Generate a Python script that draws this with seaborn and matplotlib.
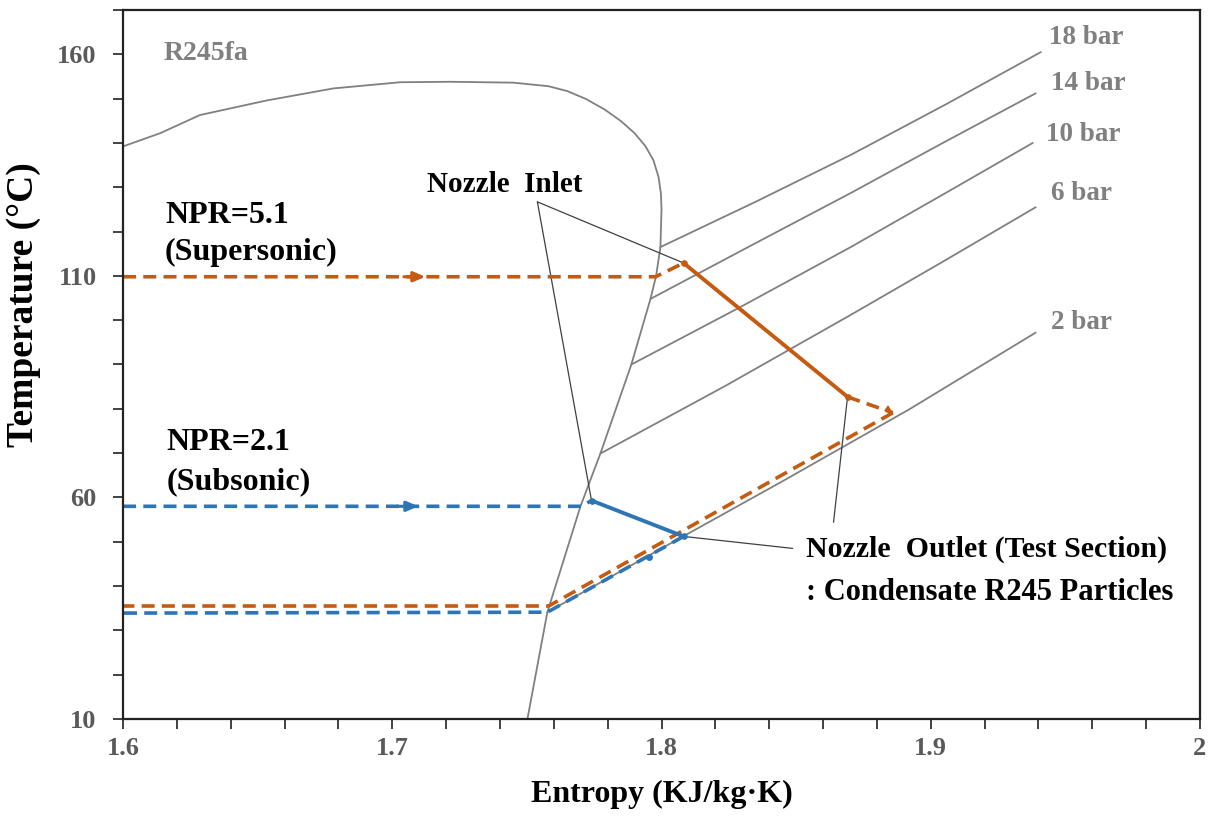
import matplotlib
matplotlib.use("Agg")
import matplotlib.pyplot as plt
import seaborn as sns
import pandas as pd
import numpy as np
from matplotlib.ticker import MultipleLocator, FixedLocator

# ---------------- data ----------------
# saturation dome (entropy kJ/kg.K, temperature C), liquid side -> vapor side
dome_s = [1.6004, 1.6138, 1.6286, 1.6535, 1.6781, 1.7030, 1.7216, 1.7450, 1.7580, 1.7650,
          1.7720, 1.7790, 1.7850, 1.7900, 1.7940, 1.7970, 1.7989, 1.7998, 1.8000, 1.7996,
          1.7980, 1.7959, 1.7888, 1.7773, 1.7699, 1.7576, 1.7502]
dome_T = [139.3, 142.2, 146.3, 149.6, 152.3, 153.7, 153.8, 153.6, 152.8, 151.7,
          149.9, 147.5, 144.9, 142.2, 139.3, 136.1, 132.3, 128.5, 124.9, 116.5,
          110.0, 104.8, 90.0, 69.9, 58.0, 34.1, 10.0]

# superheated isobars
isobar_labels = ["18 bar", "14 bar", "10 bar", "6 bar", "2 bar"]
isobar_s = [
    [1.7996, 1.8349, 1.8703, 1.9056, 1.9409],
    [1.7959, 1.8331, 1.8703, 1.9045, 1.9390],
    [1.7888, 1.8294, 1.8703, 1.9041, 1.9379],
    [1.7773, 1.8238, 1.8703, 1.9045, 1.9390],
    [1.7576, 1.8015, 1.8442, 1.8918, 1.9390],
]
isobar_T = [
    [116.5, 126.7, 137.3, 148.7, 160.5],
    [104.8, 116.8, 128.7, 140.0, 151.2],
    [90.0, 103.0, 116.5, 128.2, 140.0],
    [69.9, 85.2, 101.2, 113.2, 125.5],
    [34.1, 49.0, 63.4, 79.8, 97.2],
]
isobar_label_s = [1.9439, 1.9446, 1.9428, 1.9446, 1.9446]
isobar_label_T = [163.8, 153.5, 141.8, 128.7, 99.4]

# NPR = 5.1 (supersonic) path
sup_in_s = [1.6000, 1.7978, 1.8082]          # dashed inflow
sup_in_T = [109.8, 109.8, 112.9]
sup_noz_s = [1.8082, 1.8691]                 # solid nozzle expansion
sup_noz_T = [112.9, 82.7]
sup_out_s = [1.8691, 1.8859]                 # dashed to 2 bar
sup_out_T = [82.7, 79.1]
sup_ret_s = [1.8859, 1.7581, 1.6000]         # dashed return
sup_ret_T = [79.1, 35.5, 35.5]

# NPR = 2.1 (subsonic) path
sub_in_s = [1.6000, 1.7703, 1.7740]
sub_in_T = [58.0, 58.0, 59.3]
sub_noz_s = [1.7740, 1.8082]
sub_noz_T = [59.3, 51.2]
sub_ret_s = [1.8082, 1.7576, 1.6000]
sub_ret_T = [51.2, 34.1, 33.9]
sub_mid_s, sub_mid_T = 1.7952, 46.5

arrow_sup_s, arrow_T_sup = 1.7123, 109.8
arrow_sub_s, arrow_T_sub = 1.7097, 58.0

# annotation leader points
inlet_text_s, inlet_text_T = 1.7539, 126.7
outlet_anchor1 = (1.8487, 48.5)
outlet_anchor2 = (1.8639, 54.4)

# ---------------- style ----------------
sns.set_style("ticks")
plt.rcParams["font.family"] = ["Liberation Serif", "DejaVu Serif"]
plt.rcParams["font.weight"] = "bold"

ORANGE = "#C55A11"
BLUE = "#2E75B6"
GRAY = "#808080"
DARK = "#404040"
TICKGRAY = "#595959"

fig = plt.figure(figsize=(12.16, 8.19), dpi=100)
ax = fig.add_axes([0.1012, 0.1221, 0.8856, 0.8657])

def line(s, T, **kw):
    df = pd.DataFrame({"s": s, "T": T})
    sns.lineplot(data=df, x="s", y="T", sort=False, estimator=None, ax=ax, **kw)

# dome
line(dome_s, dome_T, color=GRAY, lw=1.3)
# isobars
for lab, s, T, ls_, lt in zip(isobar_labels, isobar_s, isobar_T, isobar_label_s, isobar_label_T):
    line(s, T, color=GRAY, lw=1.3)
    ax.text(ls_, lt, lab, color=GRAY, fontsize=19.5, fontweight="bold", ha="left", va="center")

dash = (0, (3.6, 2.0))
# leader lines
for tgt in [(sup_noz_s[0], sup_noz_T[0]), (sub_noz_s[0], sub_noz_T[0])]:
    line([inlet_text_s, tgt[0]], [inlet_text_T, tgt[1]], color=DARK, lw=0.9)
line([outlet_anchor1[0], sub_noz_s[1]], [outlet_anchor1[1], sub_noz_T[1]], color=DARK, lw=0.9)
line([outlet_anchor2[0], sup_noz_s[1]], [outlet_anchor2[1], sup_noz_T[1]], color=DARK, lw=0.9)

# supersonic path
line(sup_in_s, sup_in_T, color=ORANGE, lw=2.6, linestyle=dash)
line(sup_noz_s, sup_noz_T, color=ORANGE, lw=2.8, marker="o", markersize=4,
     markeredgecolor=ORANGE, markerfacecolor=ORANGE)
line(sup_out_s, sup_out_T, color=ORANGE, lw=2.6, linestyle=dash)
line(sup_ret_s, sup_ret_T, color=ORANGE, lw=2.6, linestyle=dash)

# subsonic path
line(sub_in_s, sub_in_T, color=BLUE, lw=2.6, linestyle=dash)
line(sub_noz_s, sub_noz_T, color=BLUE, lw=2.8, marker="o", markersize=4,
     markeredgecolor=BLUE, markerfacecolor=BLUE)
line(sub_ret_s, sub_ret_T, color=BLUE, lw=2.6, linestyle=dash)
ax.plot([sub_mid_s], [sub_mid_T], "o", color=BLUE, ms=4)

# arrow heads
for (xs, yt, c) in [(arrow_sup_s, arrow_T_sup, ORANGE), (arrow_sub_s, arrow_T_sub, BLUE)]:
    ax.annotate("", xy=(xs, yt), xytext=(xs - 0.008, yt),
                arrowprops=dict(arrowstyle="-|>,head_length=0.7,head_width=0.3", color=c, lw=2.2,
                                shrinkA=0, shrinkB=0))
ax.annotate("", xy=(sup_out_s[1], sup_out_T[1]), xytext=(sup_out_s[0] + 0.01, sup_out_T[0] - 0.6),
            arrowprops=dict(arrowstyle="-|>,head_length=0.6,head_width=0.25", color=ORANGE, lw=0,
                            shrinkA=0, shrinkB=0))

# texts
ax.text(1.6149, 160.2, "R245fa", color=GRAY, fontsize=20, fontweight="bold", ha="left", va="center")
ax.text(1.6156, 123.7, "NPR=5.1", color="black", fontsize=23, fontweight="bold", ha="left", va="center")
ax.text(1.6156, 115.2, "(Supersonic)", color="black", fontsize=23, fontweight="bold", ha="left", va="center")
ax.text(1.6160, 72.4, "NPR=2.1", color="black", fontsize=23, fontweight="bold", ha="left", va="center")
ax.text(1.6160, 63.6, "(Subsonic)", color="black", fontsize=23, fontweight="bold", ha="left", va="center")
ax.text(1.7130, 130.7, "Nozzle  Inlet", color="black", fontsize=21, fontweight="bold", ha="left", va="center")
ax.text(1.8535, 48.3, "Nozzle  Outlet (Test Section)", color="black", fontsize=21.5, fontweight="bold",
        ha="left", va="center")
ax.text(1.8535, 38.6, ": Condensate R245 Particles", color="black", fontsize=22, fontweight="bold",
        ha="left", va="center")

# axes
ax.set_xlim(1.6, 2.0)
ax.set_ylim(10, 170)
ax.xaxis.set_major_locator(FixedLocator([1.6, 1.7, 1.8, 1.9, 2.0]))
ax.xaxis.set_minor_locator(MultipleLocator(0.02))
ax.yaxis.set_major_locator(FixedLocator([10, 60, 110, 160]))
ax.yaxis.set_minor_locator(MultipleLocator(10))
ax.set_xticklabels(["1.6", "1.7", "1.8", "1.9", "2"])
ax.tick_params(which="both", direction="out", length=7, width=1.3, color="#333333",
               labelsize=19, labelcolor=TICKGRAY)
ax.tick_params(axis="y", pad=12)
ax.tick_params(axis="x", pad=6)
for lab in ax.get_xticklabels() + ax.get_yticklabels():
    lab.set_fontweight("bold")
for sp in ax.spines.values():
    sp.set_visible(True)
    sp.set_linewidth(1.6)
    sp.set_color("#222222")
ax.set_xlabel("Entropy (KJ/kg·K)", fontsize=23, fontweight="bold", color="black", labelpad=14)
ax.set_ylabel("Temperature (°C)", fontsize=27, fontweight="bold", color="black")
ax.yaxis.set_label_coords(-0.076, 0.584)

fig.savefig("out.png", dpi=100)
